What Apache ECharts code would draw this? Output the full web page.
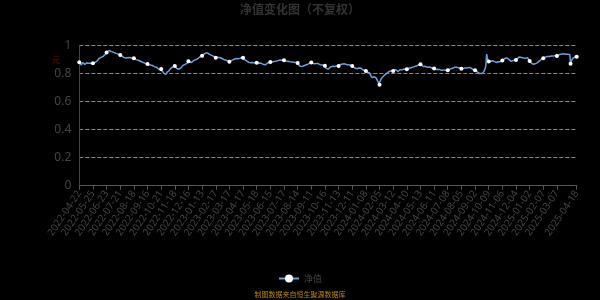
<!DOCTYPE html>
<html>
<head>
<meta charset="utf-8">
<script src="https://cdn.jsdelivr.net/npm/echarts@6/dist/echarts.min.js"></script>
<style>html,body{margin:0;padding:0;background:#000}#chart{width:600px;height:300px}</style>
</head>
<body>
<div id="chart"></div>
<script>
// ---- data ----
const firstDate = '2022-04-22';
const lastDate = '2025-04-18';
// exchange closures falling on weekdays
const closedDays = [
  '2022-05-02','2022-05-03','2022-05-04','2022-06-03','2022-09-12','2022-10-03','2022-10-04','2022-10-05','2022-10-06','2022-10-07',
  '2023-01-02','2023-01-23','2023-01-24','2023-01-25','2023-01-26','2023-01-27','2023-04-05','2023-05-01','2023-05-02','2023-05-03',
  '2023-06-22','2023-06-23','2023-09-29','2023-10-02','2023-10-03','2023-10-04','2023-10-05','2023-10-06',
  '2024-01-01','2024-02-09','2024-02-12','2024-02-13','2024-02-14','2024-02-15','2024-02-16','2024-04-04','2024-04-05',
  '2024-05-01','2024-05-02','2024-05-03','2024-06-10','2024-09-16','2024-09-17','2024-10-01','2024-10-02','2024-10-03','2024-10-04','2024-10-07',
  '2025-01-01','2025-01-28','2025-01-29','2025-01-30','2025-01-31','2025-02-03','2025-02-04','2025-04-04'
];
// quarter-end NAV dates published on non-trading days
const extraNavDays = ['2022-12-31','2023-09-30','2023-12-31','2024-03-31','2024-06-30'];

const navValues = [
  0.879,0.874,0.866,0.860,0.868,0.878,0.873,0.869,0.864,0.867,0.871,0.874,0.872,0.876,0.873,0.870,0.871,0.874,0.869,0.870,
  0.872,0.876,0.880,0.878,0.886,0.890,0.888,0.895,0.901,0.906,0.910,0.908,0.914,0.917,0.915,0.921,0.926,0.930,0.936,0.942,
  0.948,0.955,0.961,0.966,0.963,0.960,0.958,0.955,0.952,0.954,0.950,0.947,0.948,0.944,0.940,0.937,0.939,0.935,0.930,0.932,
  0.931,0.928,0.924,0.920,0.918,0.914,0.911,0.906,0.909,0.905,0.908,0.912,0.914,0.910,0.913,0.909,0.906,0.910,0.907,0.905,
  0.907,0.904,0.901,0.898,0.896,0.899,0.894,0.890,0.892,0.888,0.884,0.886,0.881,0.878,0.880,0.875,0.872,0.874,0.869,0.866,
  0.867,0.862,0.858,0.864,0.860,0.855,0.852,0.856,0.850,0.846,0.848,0.843,0.840,0.844,0.838,0.835,0.832,0.826,0.820,0.824,
  0.831,0.824,0.816,0.808,0.800,0.795,0.789,0.794,0.802,0.810,0.818,0.824,0.821,0.830,0.836,0.843,0.840,0.846,0.850,0.848,
  0.853,0.847,0.840,0.835,0.832,0.836,0.830,0.828,0.834,0.840,0.846,0.852,0.857,0.861,0.866,0.864,0.870,0.875,0.873,0.880,
  0.887,0.884,0.879,0.882,0.876,0.880,0.885,0.889,0.893,0.890,0.896,0.900,0.904,0.902,0.908,0.912,0.915,0.913,0.918,0.922,
  0.926,0.930,0.935,0.938,0.942,0.945,0.947,0.944,0.946,0.941,0.938,0.935,0.937,0.932,0.928,0.930,0.925,0.921,0.918,0.915,
  0.912,0.915,0.918,0.914,0.920,0.917,0.913,0.916,0.910,0.906,0.902,0.905,0.899,0.896,0.900,0.894,0.891,0.893,0.888,0.886,
  0.883,0.886,0.890,0.888,0.894,0.898,0.896,0.901,0.899,0.903,0.906,0.904,0.908,0.905,0.909,0.911,0.908,0.913,0.910,0.914,
  0.912,0.905,0.898,0.894,0.896,0.890,0.886,0.882,0.879,0.876,0.872,0.875,0.878,0.874,0.877,0.880,0.877,0.874,0.878,0.875,
  0.876,0.873,0.875,0.871,0.874,0.870,0.868,0.872,0.869,0.866,0.863,0.867,0.865,0.862,0.866,0.870,0.874,0.872,0.877,0.879,
  0.881,0.884,0.880,0.886,0.889,0.885,0.888,0.891,0.887,0.890,0.894,0.891,0.888,0.892,0.895,0.893,0.890,0.894,0.897,0.895,
  0.893,0.890,0.892,0.888,0.885,0.889,0.886,0.884,0.887,0.883,0.880,0.884,0.881,0.878,0.882,0.879,0.876,0.880,0.877,0.875,
  0.874,0.868,0.860,0.852,0.846,0.843,0.848,0.844,0.850,0.854,0.852,0.857,0.860,0.858,0.863,0.866,0.870,0.868,0.873,0.876,
  0.878,0.874,0.870,0.866,0.868,0.864,0.867,0.871,0.869,0.866,0.870,0.868,0.865,0.862,0.866,0.863,0.860,0.862,0.858,0.856,
  0.855,0.846,0.836,0.828,0.824,0.830,0.836,0.842,0.846,0.849,0.846,0.850,0.848,0.852,0.849,0.853,0.856,0.853,0.855,0.851,
  0.853,0.857,0.861,0.864,0.866,0.869,0.867,0.870,0.866,0.868,0.864,0.866,0.862,0.864,0.860,0.862,0.858,0.860,0.856,0.854,
  0.853,0.849,0.845,0.841,0.838,0.840,0.836,0.833,0.837,0.834,0.838,0.842,0.840,0.836,0.832,0.828,0.824,0.826,0.821,0.818,
  0.817,0.813,0.808,0.804,0.800,0.805,0.796,0.788,0.780,0.770,0.760,0.768,0.776,0.772,0.764,0.768,0.758,0.748,0.738,0.728,
  0.719,0.745,0.758,0.766,0.772,0.777,0.782,0.786,0.790,0.794,0.798,0.801,0.805,0.809,0.812,0.816,0.819,0.815,0.818,0.821,
  0.817,0.822,0.828,0.830,0.826,0.821,0.816,0.813,0.818,0.822,0.826,0.824,0.828,0.825,0.829,0.827,0.831,0.828,0.832,0.830,
  0.829,0.832,0.835,0.833,0.837,0.839,0.836,0.840,0.843,0.841,0.845,0.848,0.846,0.850,0.853,0.851,0.856,0.859,0.862,0.864,
  0.865,0.860,0.856,0.852,0.849,0.851,0.847,0.850,0.846,0.848,0.844,0.846,0.842,0.845,0.841,0.838,0.840,0.836,0.838,0.835,
  0.834,0.831,0.828,0.830,0.826,0.829,0.833,0.831,0.827,0.823,0.819,0.822,0.818,0.821,0.825,0.822,0.819,0.823,0.820,0.822,
  0.822,0.826,0.830,0.834,0.832,0.836,0.839,0.837,0.841,0.839,0.843,0.841,0.845,0.843,0.846,0.842,0.840,0.837,0.835,0.833,
  0.833,0.831,0.834,0.837,0.835,0.838,0.836,0.840,0.838,0.841,0.839,0.843,0.840,0.842,0.838,0.835,0.832,0.828,0.825,0.823,
  0.822,0.819,0.815,0.812,0.808,0.805,0.802,0.799,0.797,0.795,0.799,0.804,0.809,0.813,0.822,0.836,0.862,0.937,0.912,0.890,
  0.884,0.887,0.885,0.889,0.892,0.890,0.893,0.888,0.885,0.882,0.880,0.878,0.882,0.879,0.883,0.881,0.885,0.883,0.887,0.890,
  0.891,0.896,0.900,0.904,0.907,0.903,0.906,0.909,0.905,0.902,0.898,0.894,0.890,0.886,0.884,0.888,0.891,0.889,0.893,0.896,
  0.895,0.900,0.905,0.910,0.914,0.917,0.919,0.916,0.913,0.915,0.911,0.909,0.912,0.910,0.907,0.911,0.914,0.912,0.902,0.893,
  0.888,0.882,0.876,0.871,0.868,0.865,0.866,0.870,0.868,0.873,0.877,0.875,0.880,0.884,0.887,0.891,0.895,0.899,0.902,0.905,
  0.907,0.910,0.913,0.916,0.914,0.918,0.921,0.919,0.922,0.920,0.923,0.921,0.924,0.922,0.925,0.923,0.926,0.924,0.927,0.925,
  0.924,0.927,0.930,0.932,0.934,0.936,0.938,0.937,0.939,0.938,0.940,0.938,0.939,0.937,0.938,0.936,0.937,0.935,0.936,0.934,
  0.869,0.888,0.899,0.906,0.910,0.913,0.915,0.914,0.917,0.918
];
const titleText = '净值变化图（不复权）';
const seriesName = '净值';
const unitText = '元';
const sourceText = '制图数据来自恒生聚源数据库';

// ---- build the NAV calendar ----
function buildDates() {
  const closed = new Set(closedDays), extra = new Set(extraNavDays);
  const out = [];
  const d = new Date(firstDate + 'T00:00:00Z');
  const end = new Date(lastDate + 'T00:00:00Z');
  while (d <= end) {
    const s = d.toISOString().slice(0, 10);
    const w = d.getUTCDay();
    if ((w > 0 && w < 6 && !closed.has(s)) || extra.has(s)) out.push(s);
    d.setUTCDate(d.getUTCDate() + 1);
  }
  return out;
}
const navDates = buildDates();

const cjk = '"Noto Sans CJK SC", sans-serif';
const chart = echarts.init(document.getElementById('chart'), null, {renderer: 'canvas'});
chart.setOption({
  backgroundColor: '#000',
  animation: false,
  textStyle: {fontFamily: cjk},
  title: {
    text: titleText, left: 'center', top: -2,
    textStyle: {color: '#333', fontSize: 12, fontWeight: 'bold', fontFamily: cjk}
  },
  legend: {
    data: [seriesName], left: 'center', top: 269,
    itemWidth: 20, itemHeight: 10, itemGap: 10,
    textStyle: {color: '#444', fontSize: 9, fontFamily: cjk}
  },
  grid: {left: 79.3, right: 23.3, top: 45.3, bottom: 114.3, containLabel: false},
  xAxis: {
    type: 'category', data: navDates, boundaryGap: false,
    axisLine: {lineStyle: {color: '#555', width: 1}},
    axisTick: {show: true, interval: 19, length: 4, lineStyle: {color: '#555'}},
    axisLabel: {interval: 19, showMaxLabel: true, rotate: 56, color: '#444', fontSize: 10, margin: 6, fontFamily: '"Noto Sans", sans-serif'}
  },
  yAxis: {
    type: 'value', min: 0, max: 1, interval: 0.2,
    axisLine: {show: true, lineStyle: {color: '#444'}},
    axisTick: {show: false},
    axisLabel: {color: '#444', fontSize: 12, margin: 8, fontFamily: '"Noto Sans", sans-serif'},
    splitLine: {show: true, lineStyle: {type: 'dashed', color: '#8a8a8a', width: 1}}
  },
  series: [{
    name: seriesName, type: 'line', data: navValues,
    symbol: 'circle', symbolSize: 4, showSymbol: true,
    itemStyle: {color: '#ffffff'},
    lineStyle: {color: '#6f9fd8', width: 1.5}
  }],
  graphic: [
    {type: 'text', left: 52, top: 56, style: {text: unitText, fill: '#8b0000', fontSize: 8, fontFamily: cjk}},
    {type: 'text', left: 'center', top: 291, style: {text: sourceText, fill: '#b8860b', fontSize: 7, fontFamily: cjk}}
  ]
});
</script>
</body>
</html>
